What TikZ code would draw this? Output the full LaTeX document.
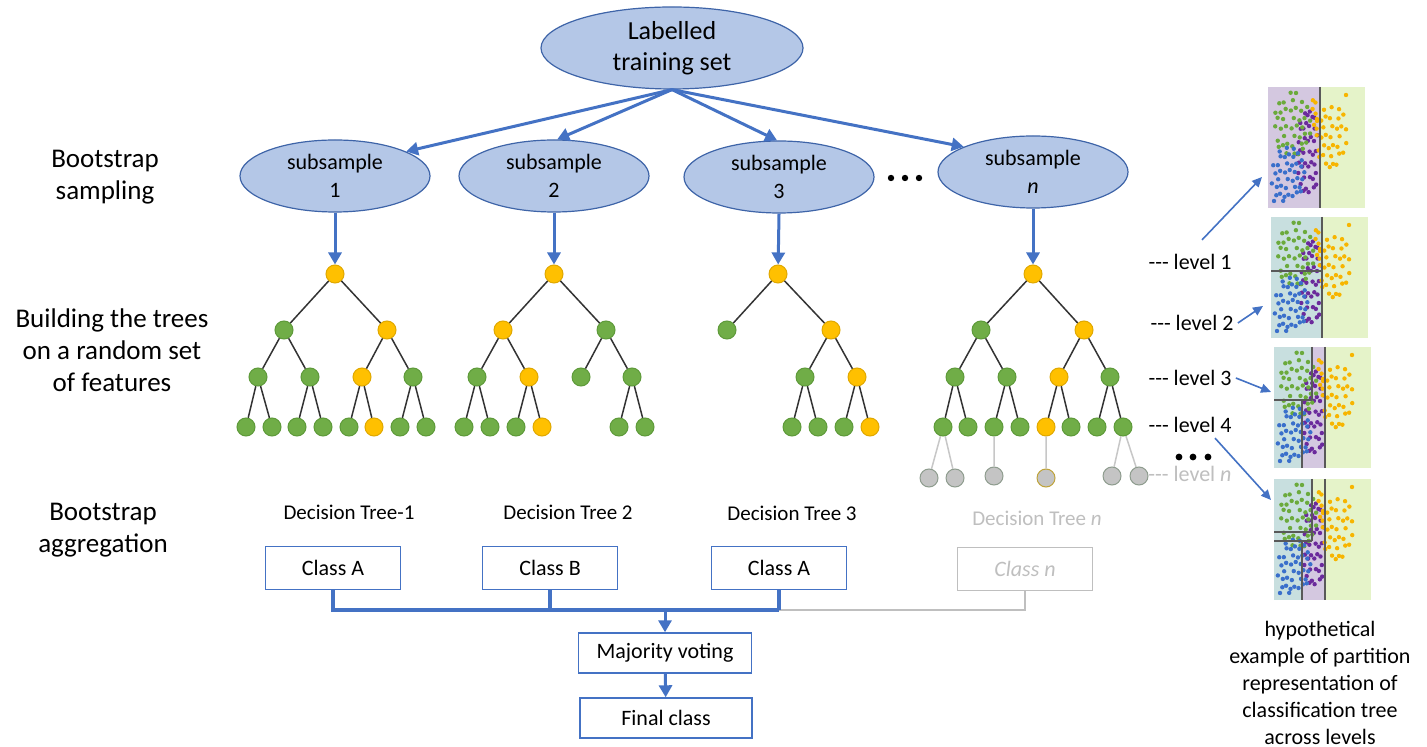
\documentclass[tikz,border=0pt]{standalone}
\usepackage{fontspec}
\setmainfont{Carlito}
\usetikzlibrary{arrows.meta,calc,shapes.geometric}
\definecolor{ellfill}{HTML}{B4C7E7}
\definecolor{elldraw}{HTML}{3E64A8}
\definecolor{ablue}{HTML}{4472C4}
\definecolor{tgreen}{HTML}{70AD47}
\definecolor{tgreenD}{HTML}{5E9A3A}
\definecolor{tyel}{HTML}{FFC000}
\definecolor{tyelD}{HTML}{E0A800}
\definecolor{tgrey}{HTML}{C4C4C4}
\definecolor{tgreyD}{HTML}{8E9C8E}
\definecolor{ltext}{HTML}{BFBFBF}
\definecolor{pLav}{HTML}{D4C8E0}
\definecolor{pTeal}{HTML}{C8DFDF}
\definecolor{pLime}{HTML}{E5F3C9}
\definecolor{dGreen}{HTML}{6BAA3C}
\definecolor{dBlue}{HTML}{3A6FCB}
\definecolor{dPurp}{HTML}{6B2A9C}
\definecolor{dOrng}{HTML}{F7B500}
% cluster: #1 colour, #2 cx, #3 cy, #4 rx, #5 ry, #6 count, #7 offset
\newcommand\pclust[7]{%
  \foreach \i in {1,...,#6}{%
    \pgfmathsetmacro\uu{2*frac(\i*0.7548777+#7)-1}%
    \pgfmathsetmacro\vv{2*frac(\i*0.5698403+#7*1.7)-1}%
    \pgfmathsetmacro\px{#2+#4*\uu*sqrt(1-\vv*\vv/2)}%
    \pgfmathsetmacro\py{#3+#5*\vv*sqrt(1-\uu*\uu/2)}%
    \fill[#1] (\px,\py) circle[radius=1.1pt];}%
}
\newcommand\pdots{%
  \pclust{dPurp}{40}{68}{11}{46}{40}{0.21}%
  \pclust{dGreen}{24}{37}{19}{32}{40}{0.43}%
  \pclust{dBlue}{20}{88}{17}{28}{40}{0.11}%
  \pclust{dOrng}{63}{47}{16}{34}{34}{0.67}%
  \pclust{dOrng}{47}{26}{3}{20}{7}{0.31}%
  \fill[dOrng] (78,8) circle[radius=1.1pt];
  \fill[dGreen] (28,6) circle[radius=1.1pt];
  \fill[dBlue] (6,114) circle[radius=1.1pt];
}
\begin{document}
\begin{tikzpicture}[x=0.5pt,y=-0.5pt,
  ell/.style={ellipse, fill=ellfill, draw=elldraw, line width=0.6pt, inner sep=0pt, align=center},
  topell/.style={ell, minimum width=131pt, minimum height=41pt, font=\fontsize{13}{15.5}\selectfont},
  subell/.style={ell, minimum width=95pt, minimum height=36pt, font=\fontsize{11}{14}\selectfont},
  lab/.style={align=center, font=\fontsize{13.5}{16}\selectfont},
  barrow/.style={draw=ablue, line width=1.5pt, -{Triangle[length=6pt,width=6.5pt]}},
  bline/.style={draw=ablue, line width=1.6pt},
  gline/.style={draw=ltext, line width=1.2pt},
  edge/.style={draw=black!80, line width=0.75pt},
  gedge/.style={draw=black!22, line width=0.75pt},
  nd/.style={circle, line width=0.5pt, minimum size=9pt, inner sep=0pt},
  gn/.style={nd, fill=tgreen, draw=tgreenD},
  yn/.style={nd, fill=tyel, draw=tyelD},
  grn/.style={nd, fill=tgrey, draw=tgreyD},
  cbox/.style={draw=ablue, line width=0.7pt, minimum width=67.5pt, minimum height=21.5pt, inner sep=0pt, font=\fontsize{11}{13}\selectfont},
  dtl/.style={font=\fontsize{10.5}{13}\selectfont},
  lvl/.style={inner sep=1pt, font=\fontsize{11}{13}\selectfont},
  tarrow/.style={draw=ablue, line width=0.8pt, -{Triangle[length=5pt,width=4.5pt]}},
  part/.style={draw=black!65, line width=0.8pt},
  bigdot/.style={fill=black}
]
\fill[white] (0,0) rectangle (1427,747);
\useasboundingbox (0,0) rectangle (1427,747);

% top and subsamples
\node[topell] (top) at (672,48) {Labelled\\training set};
\node[subell] (s1) at (335,176) {subsample\\1};
\node[subell] (s2) at (554,176) {subsample\\2};
\node[subell] (s3) at (779,177) {subsample\\3};
\node[subell] (sn) at (1033,172) {subsample\\\textit{n}};
\fill[bigdot] (891,178) circle[radius=1.6pt] (905,178) circle[radius=1.6pt] (919,178) circle[radius=1.6pt];

\draw[barrow] (top.south) -- (s1.19);
\draw[barrow] (top.south) -- (s2.85);
\draw[barrow] (top.south) -- (s3.93);
\draw[barrow] (top.south) -- (sn.160);

% left labels
\node[lab] (L1) at (105,177) {Bootstrap\\sampling};
\node[lab] (L2) at (112,350) {Building the trees\\on a random set\\of features};
\node[lab] (L3) at (103,530) {Bootstrap\\aggregation};

% tree 1
\node[yn] (a0) at (335,274) {};
\node[gn] (a1) at (284,330) {}; \node[yn] (a2) at (387,330) {};
\node[gn] (a11) at (258,377) {}; \node[gn] (a12) at (310,377) {};
\node[yn] (a21) at (362,377) {}; \node[gn] (a22) at (413,377) {};
\node[gn] (a111) at (246,427) {}; \node[gn] (a112) at (272,427) {};
\node[gn] (a121) at (297,427) {}; \node[gn] (a122) at (323,427) {};
\node[gn] (a211) at (349,427) {}; \node[yn] (a212) at (374,427) {};
\node[gn] (a221) at (400,427) {}; \node[gn] (a222) at (426,427) {};
\draw[edge] (a0)--(a1) (a0)--(a2) (a1)--(a11) (a1)--(a12) (a2)--(a21) (a2)--(a22)
  (a11)--(a111) (a11)--(a112) (a12)--(a121) (a12)--(a122)
  (a21)--(a211) (a21)--(a212) (a22)--(a221) (a22)--(a222);

% tree 2
\node[yn] (b0) at (554,274) {};
\node[yn] (b1) at (503,330) {}; \node[gn] (b2) at (606,330) {};
\node[gn] (b11) at (477,377) {}; \node[yn] (b12) at (529,377) {};
\node[gn] (b21) at (581,377) {}; \node[gn] (b22) at (632,377) {};
\node[gn] (b111) at (464,427) {}; \node[gn] (b112) at (490,427) {};
\node[gn] (b121) at (516,427) {}; \node[yn] (b122) at (542,427) {};
\node[gn] (b221) at (619,427) {}; \node[gn] (b222) at (645,427) {};
\draw[edge] (b0)--(b1) (b0)--(b2) (b1)--(b11) (b1)--(b12) (b2)--(b21) (b2)--(b22)
  (b11)--(b111) (b11)--(b112) (b12)--(b121) (b12)--(b122)
  (b22)--(b221) (b22)--(b222);

% tree 3
\node[yn] (c0) at (778,274) {};
\node[gn] (c1) at (727,330) {}; \node[yn] (c2) at (831,330) {};
\node[gn] (c21) at (805,377) {}; \node[yn] (c22) at (857,377) {};
\node[gn] (c211) at (792,427) {}; \node[gn] (c212) at (818,427) {};
\node[gn] (c221) at (844,427) {}; \node[yn] (c222) at (870,427) {};
\draw[edge] (c0)--(c1) (c0)--(c2) (c2)--(c21) (c2)--(c22)
  (c21)--(c211) (c21)--(c212) (c22)--(c221) (c22)--(c222);

% tree n
\node[yn] (d0) at (1033,274) {};
\node[gn] (d1) at (981,330) {}; \node[yn] (d2) at (1084,330) {};
\node[gn] (d11) at (955,377) {}; \node[gn] (d12) at (1007,377) {};
\node[yn] (d21) at (1059,377) {}; \node[gn] (d22) at (1110,377) {};
\node[gn] (d111) at (943,427) {}; \node[gn] (d112) at (968,427) {};
\node[gn] (d121) at (994,427) {}; \node[gn] (d122) at (1020,427) {};
\node[yn] (d211) at (1046,427) {}; \node[gn] (d212) at (1071,427) {};
\node[gn] (d221) at (1097,427) {}; \node[gn] (d222) at (1123,427) {};
\draw[edge] (d0)--(d1) (d0)--(d2) (d1)--(d11) (d1)--(d12) (d2)--(d21) (d2)--(d22)
  (d11)--(d111) (d11)--(d112) (d12)--(d121) (d12)--(d122)
  (d21)--(d211) (d21)--(d212) (d22)--(d221) (d22)--(d222);
\node[grn] (e1) at (929,478) {}; \node[grn] (e2) at (955,478) {};
\node[grn] (e3) at (994,476) {};
\node[grn, draw=tyelD!60!tgreyD] (e4) at (1046,478) {};
\node[grn] (e5) at (1112,476) {}; \node[grn] (e6) at (1139,476) {};
\draw[gedge] (d111)--(e1) (d111)--(e2) (d121)--(e3) (d211)--(e4) (d222)--(e5) (d222)--(e6);

% subsample to root arrows
\draw[barrow] (s1.south) -- (a0);
\draw[barrow] (s2.south) -- (b0);
\draw[barrow] (s3.south) -- (c0);
\draw[barrow] (sn.south) -- (d0);

% decision tree labels
\node[dtl] (dt1) at (349,512) {Decision Tree-1};
\node[dtl] (dt2) at (568,512) {Decision Tree 2};
\node[dtl] (dt3) at (792,513) {Decision Tree 3};
\node[dtl, text=ltext] (dtn) at (1037,518) {Decision Tree \textit{n}};

% class boxes
\node[cbox] (k1) at (333,568) {Class A};
\node[cbox] (k2) at (550,568) {Class B};
\node[cbox] (k3) at (779,568) {Class A};
\node[cbox, draw=ltext, text=ltext] (kn) at (1025,569) {\textit{Class n}};
\node[cbox, minimum width=86.5pt, minimum height=20pt] (mv) at (665,653) {Majority voting};
\node[cbox, minimum width=86pt, minimum height=20pt] (fc) at (666,718) {Final class};
\coordinate (bus) at (665,610);
\coordinate (bus3) at (779,610);
\draw[gline] (kn.south) |- (bus3);
\draw[bline] (k1.south) |- (bus3);
\draw[bline] (k2.south) -- (k2.south |- bus);
\draw[bline] (k3.south) -- (bus3);
\draw[barrow] (bus) -- (mv);
\draw[barrow] (mv) -- (fc);

% right panels
\begin{scope}[shift={(1268,87)}]
  \clip (0,0) rectangle (97,121);
  \fill[pLav] (0,0) rectangle (52,121);
  \fill[pLime] (52,0) rectangle (97,121);
  \pdots
  \draw[part] (52,0) -- (52,121);
\end{scope}
\begin{scope}[shift={(1271,217)}]
  \clip (0,0) rectangle (97,121);
  \fill[pTeal] (0,0) rectangle (51,121);
  \fill[pLime] (51,0) rectangle (97,121);
  \pdots
  \draw[part] (51,0) -- (51,121) (0,54) -- (51,54);
\end{scope}
\begin{scope}[shift={(1274,347)}]
  \clip (0,0) rectangle (97,121);
  \fill[pTeal] (0,0) rectangle (38,53);
  \fill[pLav] (38,0) rectangle (51,53);
  \fill[pTeal] (0,53) rectangle (28,121);
  \fill[pLav] (28,53) rectangle (51,121);
  \fill[pLime] (51,0) rectangle (97,121);
  \pdots
  \draw[part] (51,0) -- (51,121) (38,0) -- (38,53) (0,53) -- (38,53) (28,53) -- (28,121);
\end{scope}
\begin{scope}[shift={(1274,479)}]
  \clip (0,0) rectangle (97,121);
  \fill[pTeal] (0,0) rectangle (38,62);
  \fill[pLime] (38,0) rectangle (51,26);
  \fill[pLav] (38,26) rectangle (51,62);
  \fill[pTeal] (0,62) rectangle (28,121);
  \fill[pLav] (28,62) rectangle (51,121);
  \fill[pLime] (51,0) rectangle (97,121);
  \pdots
  \draw[part] (51,0) -- (51,121) (38,0) -- (38,62) (0,53) -- (38,53) (0,62) -- (38,62) (28,62) -- (28,121);
\end{scope}

% level labels
\node[lvl] (lv1) at (1190,262) {-{}-{}- level 1};
\node[lvl] (lv2) at (1192,323) {-{}-{}- level 2};
\node[lvl] (lv3) at (1190,378) {-{}-{}- level 3};
\node[lvl] (lv4) at (1190,425) {-{}-{}- level 4};
\node[lvl, text=ltext] (lvn) at (1190,474) {-{}-{}- level \textit{n}};
\fill[bigdot] (1179,457) circle[radius=1.7pt] (1193,457) circle[radius=1.7pt] (1208,457) circle[radius=1.7pt];
\coordinate (p1e) at (1262,177);
\coordinate (p2e) at (1263,306);
\coordinate (p3e) at (1271,392);
\coordinate (p4e) at (1271,500);
\draw[tarrow] ([xshift=6pt,yshift=6pt]lv1.north) -- (p1e);
\draw[tarrow] ([xshift=1pt]lv2.east) -- (p2e);
\draw[tarrow] ([xshift=1pt]lv3.east) -- (p3e);
\draw[tarrow] ([xshift=12.5pt,yshift=-1.5pt]lv4.south) -- (p4e);

\node[align=center, font=\fontsize{11}{13.5}\selectfont] (cap) at (1320,683)
  {hypothetical\\example of partition\\representation of\\classification tree\\across levels};
\end{tikzpicture}
\end{document}
